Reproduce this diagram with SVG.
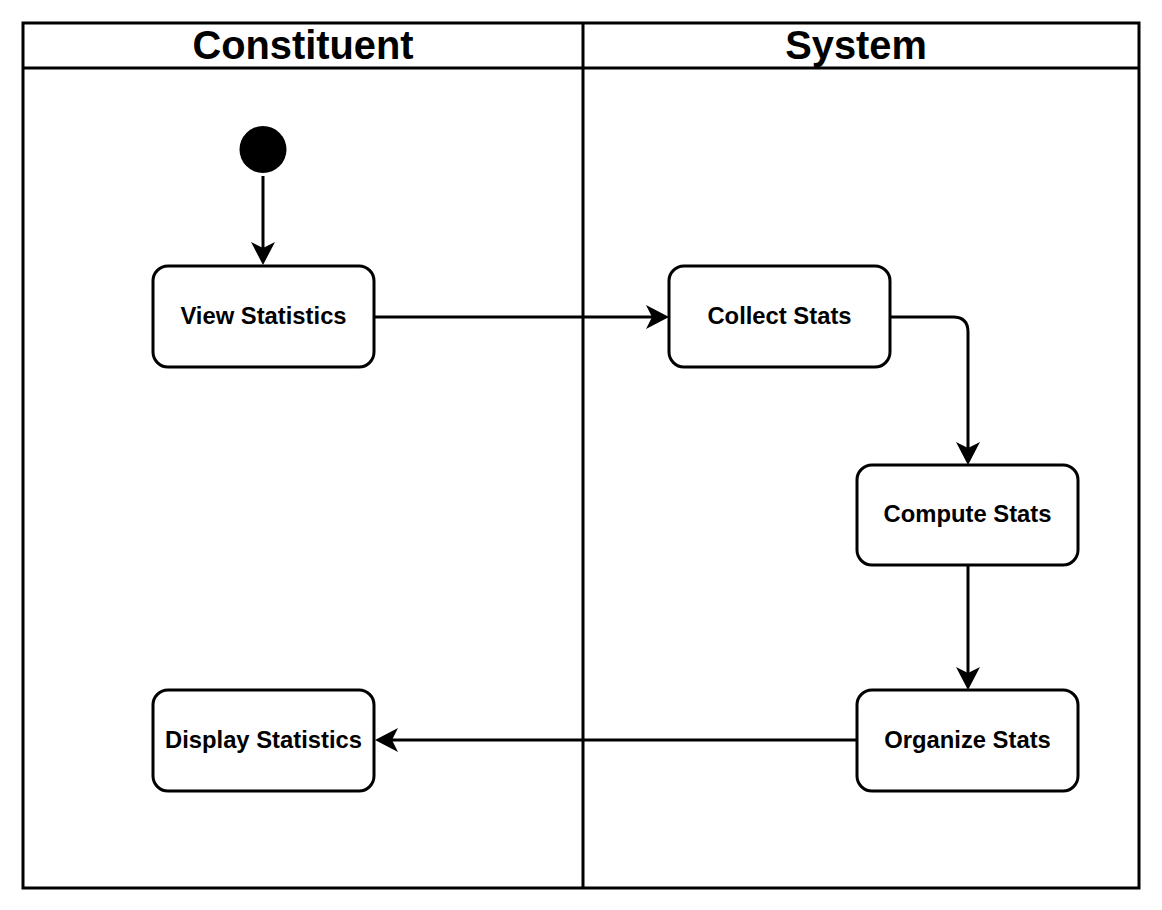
<svg xmlns="http://www.w3.org/2000/svg" width="1162" height="910" viewBox="0 0 1162 910">
  <style>
    .lane { fill: none; stroke: #000; stroke-width: 3; }
    .head { font-family: "Liberation Sans", Arial, sans-serif; font-weight: bold; font-size: 39.8px; fill: #000; text-anchor: middle; }
    .box { fill: #fff; stroke: #000; stroke-width: 3; }
    .lbl { font-family: "Liberation Sans", Arial, sans-serif; font-weight: bold; font-size: 23.8px; fill: #000; text-anchor: middle; }
    .edge { fill: none; stroke: #000; stroke-width: 3; marker-end: url(#arrow); }
  </style>
  <defs>
    <marker id="arrow" markerUnits="userSpaceOnUse" viewBox="0 0 23 24" refX="6" refY="12" markerWidth="23" markerHeight="24" orient="auto">
      <path d="M23,12 L0,0 L6,12 L0,24 Z" fill="#000"/>
    </marker>
  </defs>
  <rect width="1162" height="910" fill="#fff"/>
  <g id="pool">
    <rect class="lane" x="23" y="23" width="1116" height="865"/>
    <line class="lane" x1="23" y1="68" x2="1139" y2="68"/>
    <line class="lane" x1="583" y1="23" x2="583" y2="888"/>
    <text class="head" x="303" y="59">Constituent</text>
    <text class="head" x="856" y="59">System</text>
  </g>
  <g id="connectors">
    <path class="edge" d="M263,176 V248"/>
    <path class="edge" d="M375,317 H652"/>
    <path class="edge" d="M890,317 H953 Q968,317 968,332 V448"/>
    <path class="edge" d="M968,565 V673"/>
    <path class="edge" d="M857,740 H392"/>
  </g>
  <g id="start">
    <circle cx="263" cy="149.5" r="23.5" fill="#000"/>
  </g>
  <g id="view-statistics">
    <rect class="box" x="153" y="266" width="221" height="101" rx="15"/>
    <text class="lbl" x="263.5" y="324">View Statistics</text>
  </g>
  <g id="collect-stats">
    <rect class="box" x="669" y="266" width="221" height="101" rx="15"/>
    <text class="lbl" x="779.5" y="324">Collect Stats</text>
  </g>
  <g id="compute-stats">
    <rect class="box" x="857" y="465" width="221" height="100" rx="15"/>
    <text class="lbl" x="967.5" y="522">Compute Stats</text>
  </g>
  <g id="organize-stats">
    <rect class="box" x="857" y="690" width="221" height="101" rx="15"/>
    <text class="lbl" x="967.5" y="748">Organize Stats</text>
  </g>
  <g id="display-statistics">
    <rect class="box" x="153" y="690" width="221" height="101" rx="15"/>
    <text class="lbl" x="263.5" y="748">Display Statistics</text>
  </g>
</svg>
